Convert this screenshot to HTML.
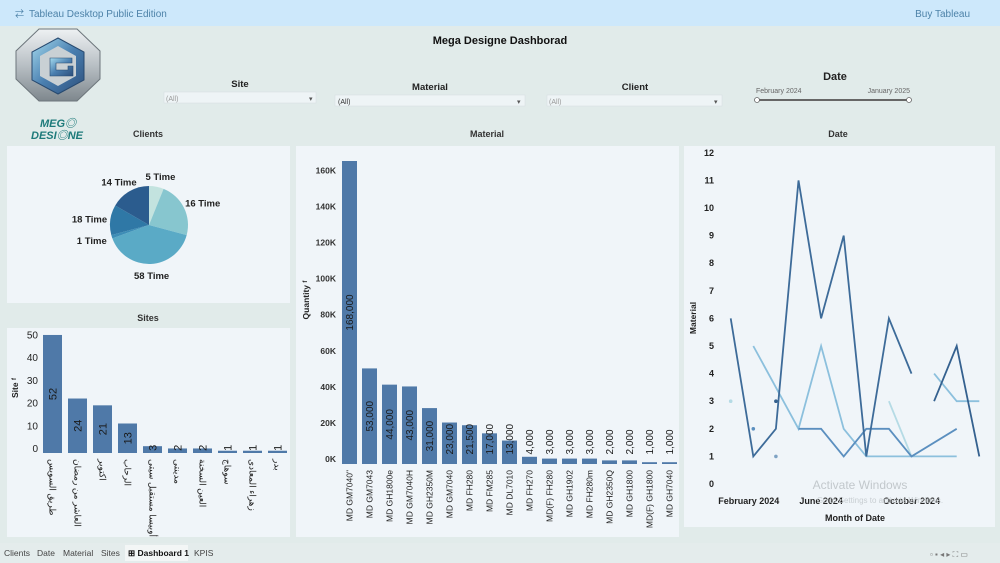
<!DOCTYPE html>
<html><head><meta charset="utf-8"><title>Mega Designe Dashborad</title>
<style>
html,body{margin:0;padding:0;width:1000px;height:563px;overflow:hidden;background:#e1ebea;font-family:"Liberation Sans","Noto Sans CJK SC",sans-serif;}
svg text{font-family:"Liberation Sans","Noto Sans CJK SC",sans-serif;}
</style></head>
<body>
<svg id="dash" width="1000" height="563" viewBox="0 0 1000 563" xmlns="http://www.w3.org/2000/svg">
<defs>
<linearGradient id="octG" x1="0" y1="0" x2="0" y2="1"><stop offset="0" stop-color="#eef1f3"/><stop offset="0.5" stop-color="#b9c0c5"/><stop offset="1" stop-color="#7e878d"/></linearGradient>
<linearGradient id="hexG" x1="0" y1="0" x2="1" y2="1"><stop offset="0" stop-color="#a6dcef"/><stop offset="0.5" stop-color="#4a7fb0"/><stop offset="1" stop-color="#2d4f7c"/></linearGradient>
</defs>
<rect x="0" y="0" width="1000" height="563" fill="#e1ebea"/>
<g>
<rect x="0" y="0" width="1000" height="26" fill="#cde8fb"/>
<text x="15" y="17" font-size="9" fill="#4d82a8">⇄</text>
<text x="29" y="17" font-size="10" fill="#4d82a8">Tableau Desktop Public Edition</text>
<text x="970" y="17" font-size="10" fill="#4d82a8" text-anchor="end">Buy Tableau</text>
</g>
<g>
<polygon points="39,29 77,29 100,51 100,79 77,101 39,101 16,79 16,51" fill="url(#octG)" stroke="#6d767c" stroke-width="1"/>
<polygon points="58,38 84,52 84,80 58,94 32,80 32,52" fill="url(#hexG)" stroke="#27496f" stroke-width="1"/>
<polygon points="58,46 76,56 76,76 58,86 40,76 40,56" fill="#c9d0d4"/>
<path d="M 50 58 L 72 58 L 72 63 L 56 63 L 56 70 L 68 70 L 68 66 L 73 66 L 73 76 L 50 76 Z" fill="url(#hexG)" stroke="#27496f" stroke-width="0.6"/>
<text x="58" y="127" font-size="11" font-weight="bold" font-style="italic" fill="#1d7a7a" text-anchor="middle">MEG◎</text>
<text x="57" y="139" font-size="11" font-weight="bold" font-style="italic" fill="#1d7a7a" text-anchor="middle">DESI◎NE</text>
</g>
<text x="500" y="44" font-size="11" font-weight="bold" fill="#111" text-anchor="middle">Mega Designe Dashborad</text>
<g>
<text x="240" y="87" font-size="9.5" font-weight="bold" fill="#222" text-anchor="middle">Site</text>
<rect x="164" y="92" width="152" height="11" fill="#eef4f6" stroke="#d4dcdf" stroke-width="0.5"/>
<text x="166" y="101" font-size="7" fill="#999">(All)</text><text x="309" y="101" font-size="7" fill="#555">▾</text>
</g>
<g>
<text x="430" y="90" font-size="9.5" font-weight="bold" fill="#222" text-anchor="middle">Material</text>
<rect x="335" y="95" width="190" height="11" fill="#eef4f6" stroke="#d4dcdf" stroke-width="0.5"/>
<text x="338" y="104" font-size="7" fill="#333">(All)</text><text x="517" y="104" font-size="7" fill="#555">▾</text>
</g>
<g>
<text x="635" y="90" font-size="9.5" font-weight="bold" fill="#222" text-anchor="middle">Client</text>
<rect x="547" y="95" width="175" height="11" fill="#eef4f6" stroke="#d4dcdf" stroke-width="0.5"/>
<text x="549" y="104" font-size="7" fill="#999">(All)</text><text x="714" y="104" font-size="7" fill="#555">▾</text>
</g>
<g>
<text x="835" y="80" font-size="11" font-weight="bold" fill="#222" text-anchor="middle">Date</text>
<text x="756" y="93" font-size="7" fill="#666">February 2024</text>
<text x="910" y="93" font-size="7" fill="#666" text-anchor="end">January 2025</text>
<line x1="757" y1="100" x2="909" y2="100" stroke="#666" stroke-width="2"/>
<circle cx="757" cy="100" r="2.5" fill="#fff" stroke="#666" stroke-width="0.8"/>
<circle cx="909" cy="100" r="2.5" fill="#fff" stroke="#666" stroke-width="0.8"/>
</g>
<text x="148" y="137" font-size="9" font-weight="bold" fill="#333" text-anchor="middle">Clients</text>
<text x="487" y="137" font-size="9" font-weight="bold" fill="#333" text-anchor="middle">Material</text>
<text x="838" y="137" font-size="9" font-weight="bold" fill="#333" text-anchor="middle">Date</text>
<text x="148" y="321" font-size="9" font-weight="bold" fill="#333" text-anchor="middle">Sites</text>
<rect x="7" y="146" width="283" height="157" fill="#f0f5f9"/>
<rect x="7" y="328" width="283" height="209" fill="#f0f5f9"/>
<rect x="296" y="146" width="383" height="391" fill="#f0f5f9"/>
<rect x="684" y="146" width="311" height="381" fill="#f0f5f9"/>
<g id="pie"></g>
<g id="sites"></g>
<g id="mat"></g>
<g id="date"></g>
<g>
<rect x="0" y="543" width="1000" height="20" fill="#e4ecec"/>
<text x="4" y="556" font-size="8.5" fill="#444">Clients</text>
<text x="37" y="556" font-size="8.5" fill="#444">Date</text>
<text x="63" y="556" font-size="8.5" fill="#444">Material</text>
<text x="101" y="556" font-size="8.5" fill="#444">Sites</text>
<rect x="125" y="545" width="63" height="16" fill="#f3f6f6"/>
<text x="128" y="556" font-size="8.5" fill="#111" font-weight="bold">⊞ Dashboard 1</text>
<text x="194" y="556" font-size="8.5" fill="#444">KPIS</text>
<text x="930" y="557" font-size="8" fill="#777">▫ ▪ ◂ ▸ ⛶ ▭</text>
</g>
<text x="860" y="489" font-size="12" fill="#c2c8cc" text-anchor="middle">Activate Windows</text>
<text x="880" y="503" font-size="8" fill="#c8ced2" text-anchor="middle">Go to Settings to activate Windows.</text>
</svg>
<script>
// ---- Clients pie data ----
const pieLabels = ["5 Time","16 Time","58 Time","1 Time","18 Time","14 Time"];
const pieValues = [22, 83, 145, 5, 45, 60];
const pieColors = ["#c3e3df","#87c6cf","#5aaac6","#3d8db6","#2f78a6","#2b5c8e"];
// ---- Sites data ----
const siteNames = ["طريق السويس","العاشر من رمضان","اكتوبر","الرحاب","أوبيسا مستقبل سيتى","مدينتى","العين السخنة","سوهاج","زهراء المعادى","بدر"];
const siteValues = [52, 24, 21, 13, 3, 2, 2, 1, 1, 1];
const siteTicks = [0, 10, 20, 30, 40, 50];
// ---- Material data ----
const matNames = ["MD GM7040\"","MD GM7043","MD GH1800e","MD GM7040H","MD GH2350M","MD GM7040","MD FH280","MD FM285","MD DL7010","MD FH270","MD(F) FH280","MD GH1902","MD FH280m","MD GH2350Q","MD GH1800","MD(F) GH1800","MD GH7040"];
const matValues = [168000, 53000, 44000, 43000, 31000, 23000, 21500, 17000, 13000, 4000, 3000, 3000, 3000, 2000, 2000, 1000, 1000];
const matTicks = [0, 20000, 40000, 60000, 80000, 100000, 120000, 140000, 160000];
// ---- Date data (month index 0 = February 2024) ----
const dateTicks = [0,1,2,3,4,5,6,7,8,9,10,11,12];
const monthLabels = ["February 2024","June 2024","October 2024"];
const monthLabelIdx = [0.8, 4, 8];
const s1Months = [0,1,2,3,4,5,6,7,8];   const s1Values = [6,1,2,11,6,9,1,6,4];
const s2Months = [9,10,11];             const s2Values = [3,5,1];
const s3Months = [3,4,5,6,7,8,10];      const s3Values = [2,2,1,2,2,1,2];
const s4Months = [1,3,4,5,6,7,8,10];    const s4Values = [5,2,5,2,1,1,1,1];
const s5Months = [9,10,11];             const s5Values = [4,3,3];
const s6Months = [7,8];                 const s6Values = [3,1];
const dotMonths = [0,1,2,2];            const dotValues = [3,2,3,1];
const dotColors = ["#b5dbe5","#5b8fbf","#35618f","#7fa3c4"];

const NS = "http://www.w3.org/2000/svg";
function mk(tag, attrs, parent, txt){const e=document.createElementNS(NS,tag);for(const k in attrs)e.setAttribute(k,attrs[k]);if(txt!==undefined)e.textContent=txt;parent.appendChild(e);return e;}

// ---------- Pie ----------
(function(){
const g=document.getElementById('pie');
const cx=149, cy=225, r=39;
const total=pieValues.reduce((a,b)=>a+b,0);
let a0=0;
pieValues.forEach((v,i)=>{
  const a1=a0+v/total*Math.PI*2;
  const x0=cx+r*Math.sin(a0), y0=cy-r*Math.cos(a0), x1=cx+r*Math.sin(a1), y1=cy-r*Math.cos(a1);
  const large=(a1-a0)>Math.PI?1:0;
  const p=mk('path',{d:`M${cx},${cy} L${x0},${y0} A${r},${r} 0 ${large} 1 ${x1},${y1} Z`,fill:pieColors[i]},g);
  
  
  const m=(a0+a1)/2;
  const lx=cx+52*Math.sin(m)+8*Math.sin(m), ly=cy-50*Math.cos(m)+4;
  const t=mk('text',{x:lx,y:ly,'font-size':9.5,'font-weight':'bold',fill:'#222','text-anchor':'middle'},g,pieLabels[i]);
  
  
  a0=a1;
});
})();

// ---------- Sites ----------
(function(){
const g=document.getElementById('sites');
const base=453, k=2.27, x0=43, step=25, bw=19;
const yS=v=>base-v*k;
siteTicks.forEach(t=>{
  const e=mk('text',{x:38,y:yS(t)-1,'font-size':10,fill:'#222','text-anchor':'end'},g,String(t));
  
  
});
const yt=mk('text',{x:0,y:0,'font-size':8.5,'font-weight':'bold',fill:'#222','text-anchor':'middle',transform:'translate(18,388) rotate(-90)'},g,'Site ᶠ');


siteValues.forEach((v,i)=>{
  const x=x0+i*step, top=yS(v);
  const b=mk('rect',{x:x,y:top,width:bw,height:base-top,fill:'#4f79a8'},g);
  
  
  const s=String(v), len=s.length*6.5;
  const c=Math.min((top+base)/2, base-2-len/2);
  const lt=mk('text',{x:0,y:0,'font-size':11,fill:'#1a1a1a','text-anchor':'middle',transform:`translate(${x+bw/2+4},${c}) rotate(-90)`},g,s);
  
  
  const nl=mk('text',{x:0,y:0,'font-size':9,fill:'#222','text-anchor':'start',direction:'ltr',transform:`translate(${x+bw/2-3},${base+6}) rotate(90)`},g,siteNames[i]);
  
  
});
})();

// ---------- Material ----------
(function(){
const g=document.getElementById('mat');
const base=464, k=303/168000, x0=342, step=20, bw=15;
const yS=v=>base-v*k;
matTicks.forEach(t=>{
  const e=mk('text',{x:336,y:yS(t)-2,'font-size':8.5,'font-weight':'bold',fill:'#333','text-anchor':'end'},g,(t/1000)+'K');
  
  
});
const yt=mk('text',{x:0,y:0,'font-size':8.5,'font-weight':'bold',fill:'#222','text-anchor':'middle',transform:'translate(309,300) rotate(-90)'},g,'Quantity ᶠ');


matValues.forEach((v,i)=>{
  const x=x0+i*step, top=yS(v);
  const b=mk('rect',{x:x,y:top,width:bw,height:base-top,fill:'#4f79a8'},g);
  
  
  const s=v.toLocaleString('en-US'), len=s.length*5.6;
  const c=Math.min((top+base)/2, base-8-len/2);
  const lt=mk('text',{x:0,y:0,'font-size':10,fill:'#1a1a1a','text-anchor':'middle',transform:`translate(${x+bw/2+3.5},${c}) rotate(-90)`},g,s);
  
  
  const nl=mk('text',{x:0,y:0,'font-size':8.5,fill:'#222','text-anchor':'end',transform:`translate(${x+bw/2+3},${base+6}) rotate(-90)`},g,matNames[i]);
  
  
});
})();

// ---------- Date ----------
(function(){
const g=document.getElementById('date');
const y0=484, k=27.6, x0=730.7, step=22.6;
const yS=v=>y0-v*k, xS=m=>x0+m*step;
dateTicks.forEach(t=>{
  const e=mk('text',{x:714,y:yS(t)+3,'font-size':9,'font-weight':'bold',fill:'#222','text-anchor':'end'},g,String(t));
  
  
});
monthLabels.forEach((l,i)=>{
  const e=mk('text',{x:xS(monthLabelIdx[i]),y:504,'font-size':9,'font-weight':'bold',fill:'#222','text-anchor':'middle'},g,l);
  
  
});
const xt=mk('text',{x:855,y:521,'font-size':9,'font-weight':'bold',fill:'#222','text-anchor':'middle'},g,'Month of Date');


const yt=mk('text',{x:0,y:0,'font-size':8.5,'font-weight':'bold',fill:'#222','text-anchor':'middle',transform:'translate(696,318) rotate(-90)'},g,'Material');


const series=[[s6Months,s6Values,'#b5dbe5'],[s5Months,s5Values,'#8cc0dd'],[s4Months,s4Values,'#8cc0dd'],[s3Months,s3Values,'#5b8fbf'],[s1Months,s1Values,'#3d6b99'],[s2Months,s2Values,'#35618f']];
series.forEach((s,si)=>{
  const pts=s[0].map((m,i)=>xS(m)+','+yS(s[1][i])).join(' ');
  const p=mk('polyline',{points:pts,fill:'none',stroke:s[2],'stroke-width':1.8,'stroke-linejoin':'miter'},g);
  
  
});
dotMonths.forEach((m,i)=>{
  const d=mk('circle',{cx:xS(m),cy:yS(dotValues[i]),r:1.8,fill:dotColors[i]},g);
  
  
});
})();
</script>
</body></html>
